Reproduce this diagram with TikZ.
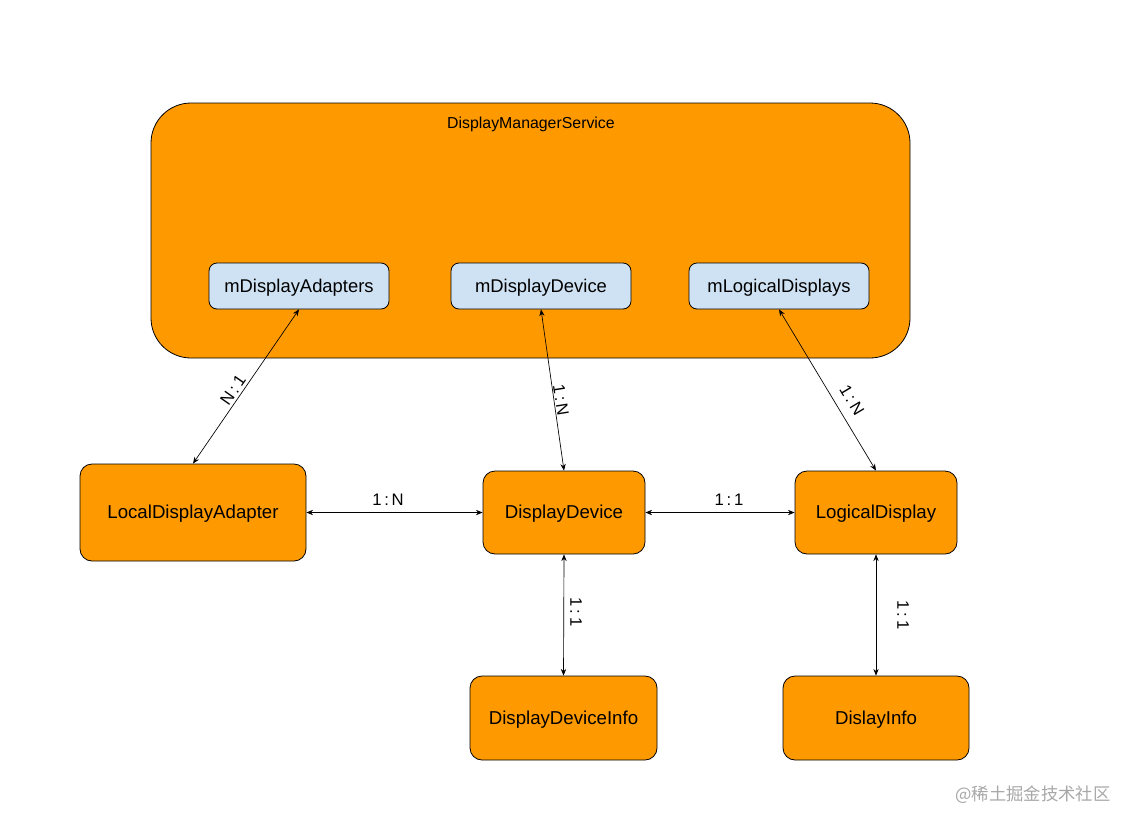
\documentclass[tikz,border=0pt]{standalone}
\usepackage{fontspec}
\setmainfont{Liberation Sans}
\newfontfamily\cjkfont{Noto Sans CJK SC}
\usetikzlibrary{arrows.meta}
\definecolor{orangefill}{HTML}{FF9900}
\definecolor{bluefill}{HTML}{CFE2F3}
\definecolor{wmgray}{HTML}{A8A8A8}
\tikzset{
  obox/.style={draw=black, line width=0.6pt, fill=orangefill, rounded corners=9pt, inner sep=0pt, font=\fontsize{14}{16}\selectfont, text depth=1pt},
  bbox/.style={draw=black, line width=0.6pt, fill=bluefill, rounded corners=6pt, inner sep=0pt, font=\fontsize{13.8}{16}\selectfont, text depth=1pt},
  conn/.style={draw=black, line width=0.5pt, {Stealth[length=5pt,width=4pt]}-{Stealth[length=5pt,width=4pt]}},
  lbl/.style={inner sep=0pt, font=\fontsize{12.5}{15}\selectfont}
}
\begin{document}
\begin{tikzpicture}[x=0.75pt,y=-0.75pt]
\useasboundingbox[fill=white] (0,0) rectangle (1137,828);
% container
\node[draw=black, line width=0.6pt, fill=orangefill, rounded corners=30pt, minimum width=569.25pt, minimum height=191.25pt, inner sep=0pt] (dms) at (530.5,230.5) {};
\node[lbl, font=\fontsize{11.9}{14}\selectfont] (dmstitle) at (531,124) {DisplayManagerService};
% inner boxes
\node[bbox, minimum width=135pt, minimum height=34.5pt] (mda) at (299,286) {mDisplayAdapters};
\node[bbox, minimum width=135pt, minimum height=34.5pt] (mdd) at (541,286) {mDisplayDevice};
\node[bbox, minimum width=135pt, minimum height=34.5pt] (mld) at (779,286) {mLogicalDisplays};
% lower boxes
\node[obox, minimum width=169.5pt, minimum height=72.75pt] (lda) at (193,512.5) {LocalDisplayAdapter};
\node[obox, minimum width=121.5pt, minimum height=62.25pt] (dd) at (564,512.5) {DisplayDevice};
\node[obox, minimum width=121.5pt, minimum height=62.25pt] (ld) at (876,512.5) {LogicalDisplay};
\node[obox, minimum width=140.25pt, minimum height=63pt] (ddi) at (563.5,718) {DisplayDeviceInfo};
\node[obox, minimum width=139.5pt, minimum height=63pt] (di) at (876,718) {DislayInfo};
% connectors
\draw[conn] (mda.south) -- (lda.north);
\draw[conn] (mdd.south) -- (dd.north);
\draw[conn] (mld.south) -- (ld.north);
\draw[conn] (lda.east) -- (dd.west);
\draw[conn] (dd.east) -- (ld.west);
\draw[conn] (dd.south) -- (ddi.north);
\draw[conn] (ld.south) -- (di.north);
% labels
\node[lbl, rotate=55] (l1) at (233,390) {N\,:\,1};
\node[lbl, rotate=-81] (l2) at (561,400) {1\,:\,N};
\node[lbl, rotate=-59] (l3) at (852,400) {1\,:\,N};
\node[lbl] (l4) at (388,500) {1\,:\,N};
\node[lbl] (l5) at (729,500) {1\,:\,1};
\node[lbl, rotate=-90] (l6) at (576,612) {1\,:\,1};
\node[lbl, rotate=-90] (l7) at (903,615) {1\,:\,1};
% watermark
\node[inner sep=0pt, text=wmgray, font=\cjkfont\fontsize{13}{15}\selectfont] (wm) at (1033,795) {@稀土掘金技术社区};
\end{tikzpicture}
\end{document}
